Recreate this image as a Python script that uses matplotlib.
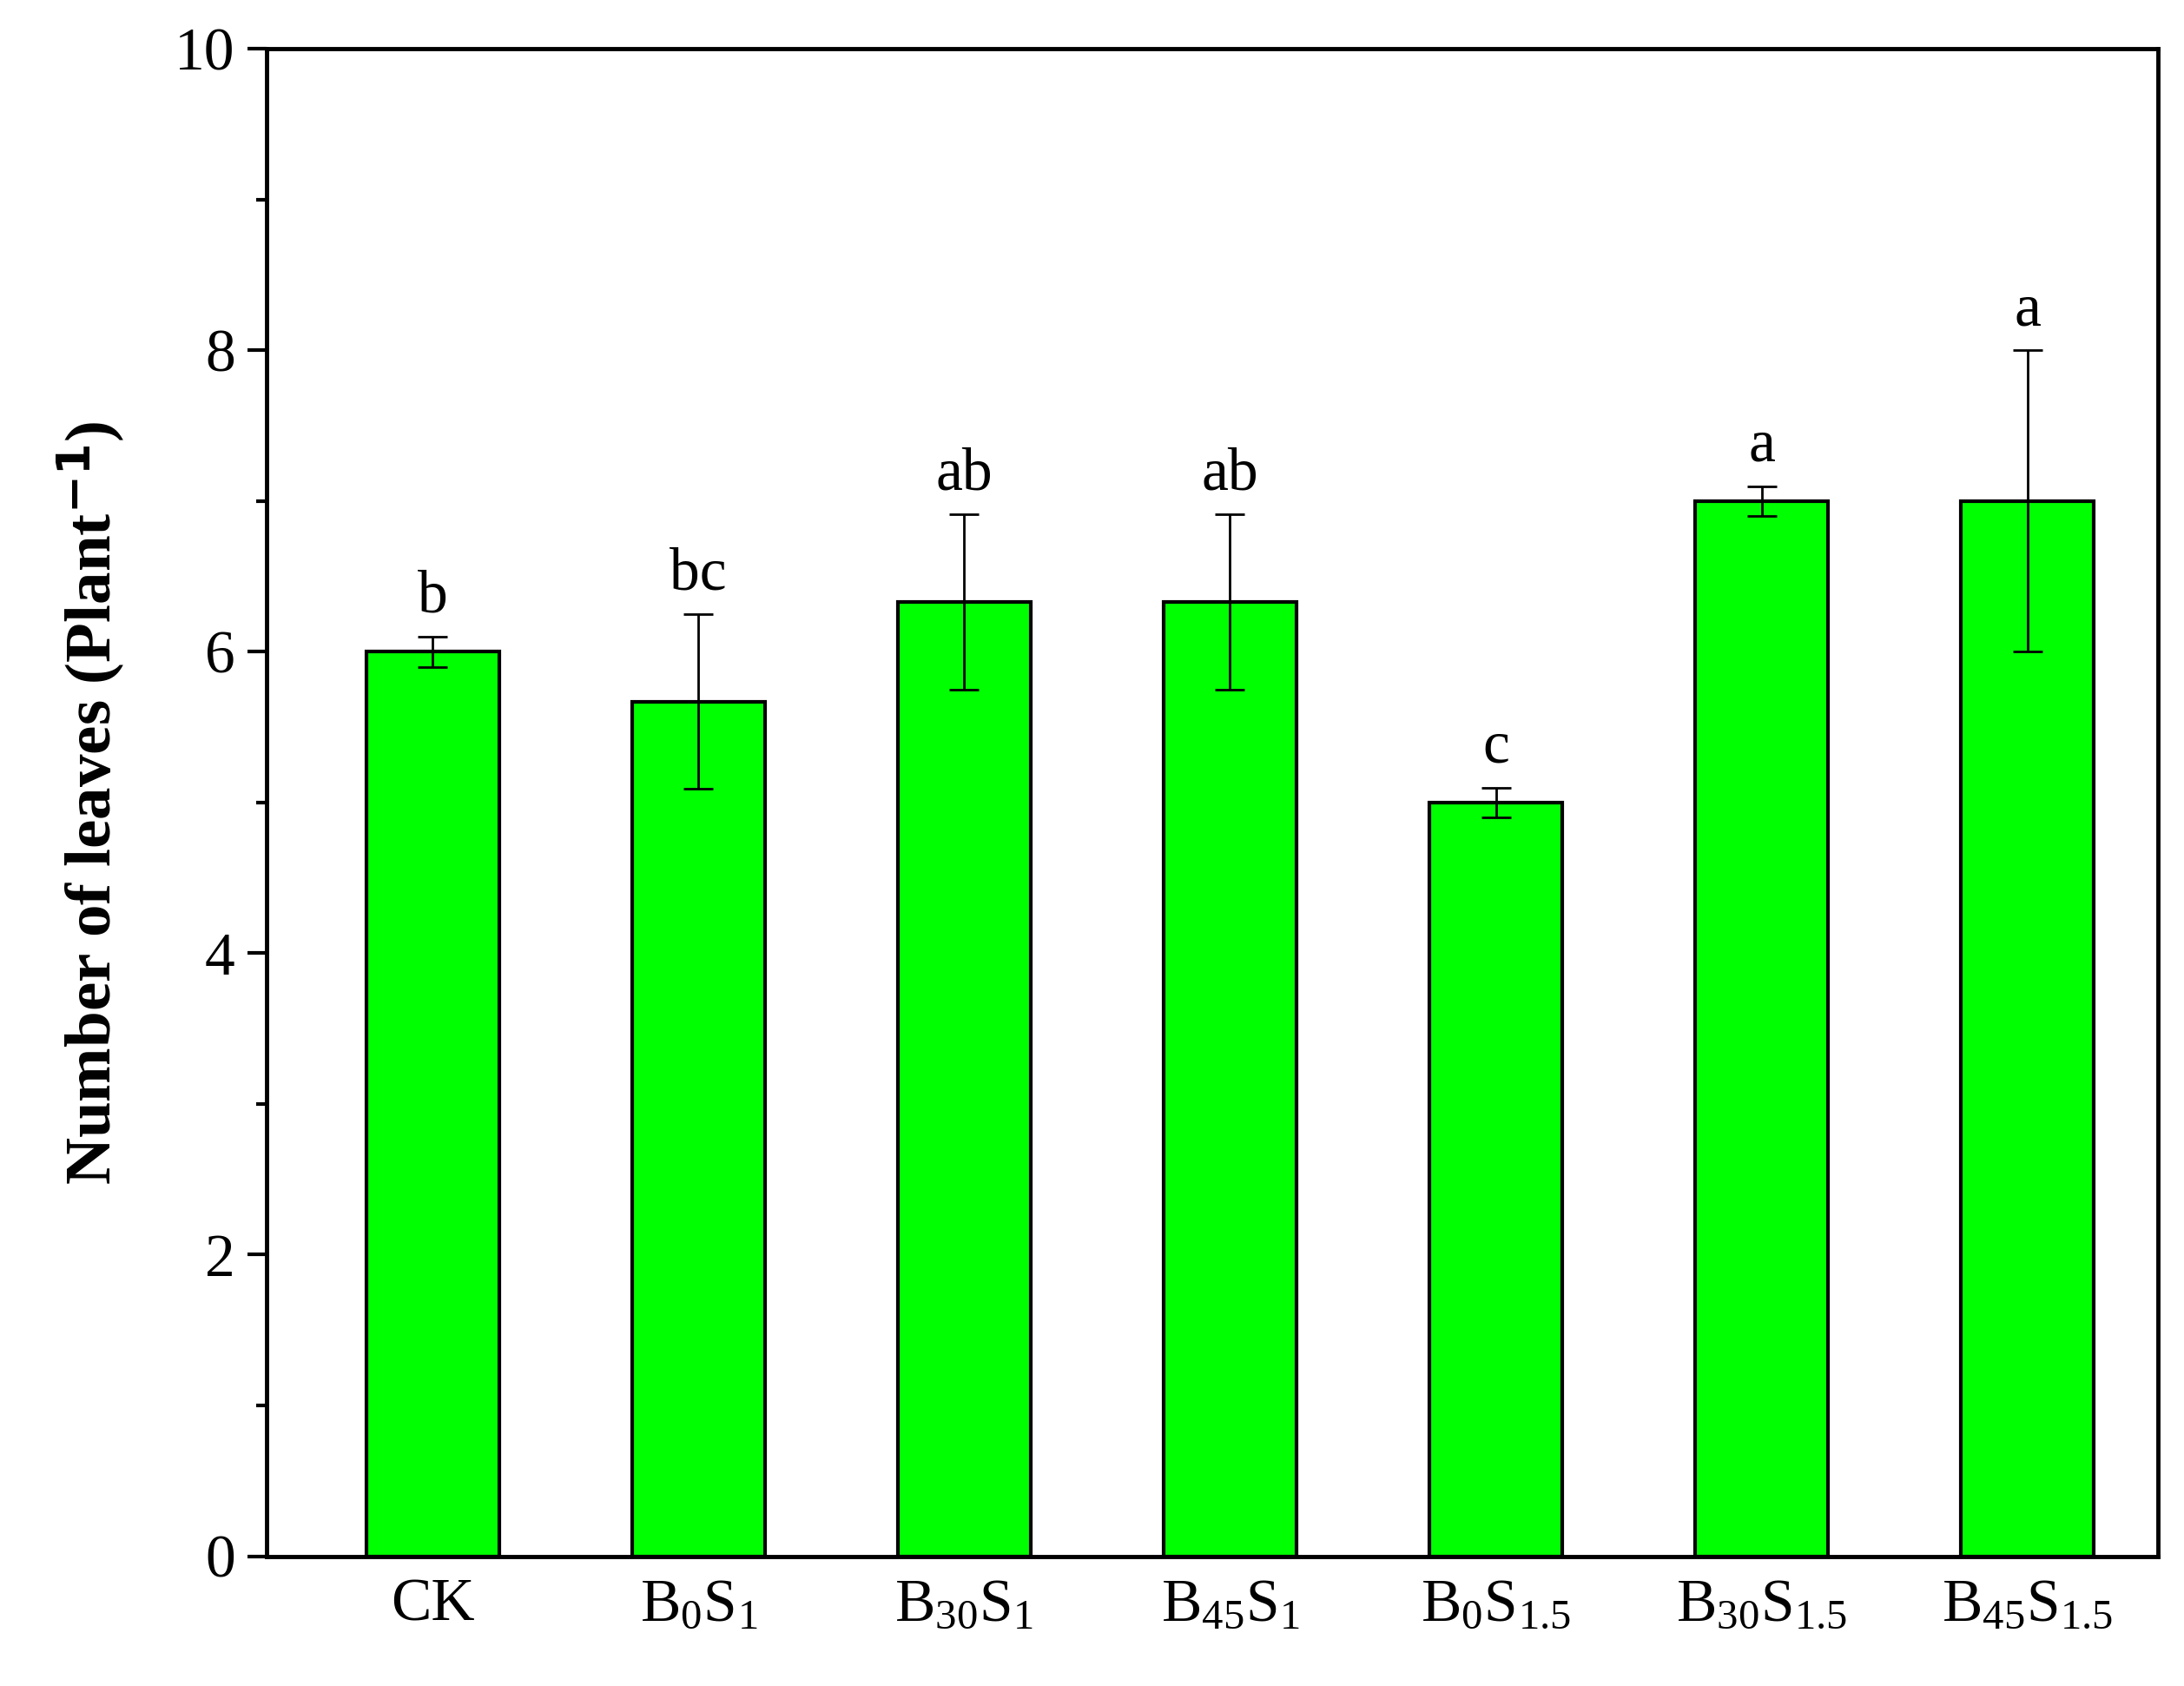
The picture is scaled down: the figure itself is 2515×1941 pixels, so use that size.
import numpy as np
import matplotlib.pyplot as plt
from matplotlib.ticker import MultipleLocator

# Data
labels = ["CK", r"B$_0$S$_1$", r"B$_{30}$S$_1$", r"B$_{45}$S$_1$",
          r"B$_0$S$_{1.5}$", r"B$_{30}$S$_{1.5}$", r"B$_{45}$S$_{1.5}$"]
values = [6.0, 5.67, 6.33, 6.33, 5.0, 7.0, 7.0]
errors = [0.1, 0.58, 0.58, 0.58, 0.1, 0.1, 1.0]
letters = ["b", "bc", "ab", "ab", "c", "a", "a"]

plt.rcParams['font.family'] = 'Liberation Serif'
plt.rcParams['mathtext.fontset'] = 'custom'
plt.rcParams['mathtext.rm'] = 'Liberation Serif'
plt.rcParams['mathtext.it'] = 'Liberation Serif'

fig = plt.figure(figsize=(25.15, 19.41), dpi=100)
ax = fig.add_axes([0.122, 0.077, 0.866, 0.894])

x = np.arange(len(values))
ax.bar(x, values, width=0.5, color='#00ff00', edgecolor='black', linewidth=3)
ax.errorbar(x, values, yerr=errors, fmt='none', ecolor='black',
            elinewidth=2, capsize=12, capthick=2)
for xi, v, e, t in zip(x, values, errors, letters):
    ax.text(xi, v + e + 0.08, t, ha='center', va='bottom', fontsize=50)

ax.set_xlim(-0.625, 6.49)
ax.set_ylim(0, 10)
ax.set_xticks(x)
ax.set_xticklabels(labels, fontsize=50)
ax.tick_params(axis='x', length=0, pad=18)
ax.yaxis.set_major_locator(MultipleLocator(2))
ax.yaxis.set_minor_locator(MultipleLocator(1))
ax.tick_params(axis='y', which='major', length=16, width=3, labelsize=50, pad=10)
ax.tick_params(axis='y', which='minor', length=9, width=3)
for s in ax.spines.values():
    s.set_linewidth(3.5)

ax.set_ylabel(r"Number of leaves (Plant$^{\mathbf{-1}}$)", fontsize=54,
              fontweight='bold', labelpad=40)

fig.savefig("out.png", dpi=100)
